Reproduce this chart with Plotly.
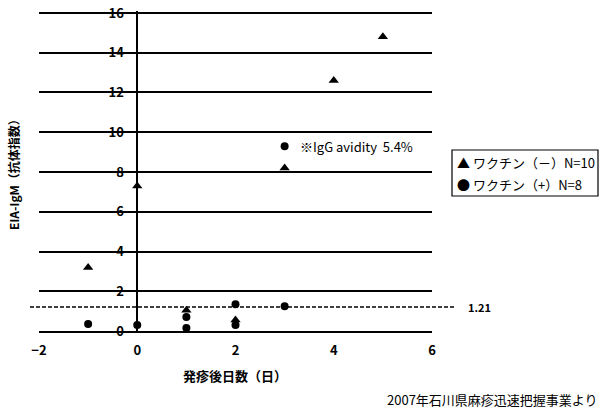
import plotly.graph_objects as go

# Data
neg_x = [-1, 0, 1, 2, 3, 4, 5]
neg_y = [3.2, 7.3, 1.05, 0.55, 8.2, 12.6, 14.8]
pos_x = [-1, 0, 1, 1, 2, 2, 3, 3]
pos_y = [0.35, 0.3, 0.7, 0.15, 1.35, 0.3, 1.25, 9.3]
neg_name = "ワクチン（－）N=10"
pos_name = "ワクチン（+）N=8"
cutoff = 1.21
x_ticks = [-2, 0, 2, 4, 6]
y_ticks = [0, 2, 4, 6, 8, 10, 12, 14, 16]

FONT = "Noto Sans CJK JP"
W, H = 603, 415
L, T = 39, 11
PW, PH = 393, 320
R, B = W - L - PW, H - T - PH

def px_x(px):  # screen pixel -> paper x
    return (px - L) / PW

def px_y(py):  # screen pixel -> paper y
    return (T + PH - py) / PH

fig = go.Figure()
fig.add_trace(go.Scatter(x=neg_x, y=neg_y, mode="markers", name=neg_name, showlegend=False,
                         marker=dict(symbol="triangle-up", size=9, color="black"),
                         cliponaxis=False))
fig.add_trace(go.Scatter(x=pos_x, y=pos_y, mode="markers", name=pos_name, showlegend=False,
                         marker=dict(symbol="circle", size=8, color="black"),
                         cliponaxis=False))

# cutoff dashed line (extends past plot area)
fig.add_shape(type="line", xref="paper", yref="y", x0=px_x(30), x1=px_x(455),
              y0=cutoff, y1=cutoff, line=dict(color="black", width=1.5, dash="4px,2px"))
fig.add_annotation(xref="paper", yref="y", x=px_x(466), y=cutoff, text=f"<b>{cutoff:.2f}</b>",
                   showarrow=False, xanchor="left", yanchor="middle",
                   font=dict(size=11, color="black", family=FONT))

fig.add_annotation(x=3.27, y=9.3, text="※IgG avidity  5.4%", showarrow=False,
                   xanchor="left", yanchor="middle", font=dict(size=13, color="black", family=FONT))

fig.add_annotation(xref="paper", yref="paper", x=px_x(13), y=px_y(172),
                   text="<b>EIA-IgM（抗体指数）</b>",
                   textangle=-90, showarrow=False, xanchor="center", yanchor="middle",
                   font=dict(size=12, color="black", family=FONT))

fig.add_annotation(xref="paper", yref="paper", x=px_x(235), y=px_y(375),
                   text="<b>発疹後日数（日）</b>",
                   showarrow=False, xanchor="center", yanchor="middle",
                   font=dict(size=13, color="black", family=FONT))

fig.add_annotation(xref="paper", yref="paper", x=px_x(600), y=px_y(399),
                   text="2007年石川県麻疹迅速把握事業より", showarrow=False,
                   xanchor="right", yanchor="middle", font=dict(size=13, color="black", family=FONT))

# legend box (drawn manually)
fig.add_shape(type="rect", xref="paper", yref="paper", x0=px_x(452), x1=px_x(598),
              y0=px_y(196), y1=px_y(150), line=dict(color="black", width=1.2),
              fillcolor="white")
fig.add_annotation(xref="paper", yref="paper", x=px_x(455), y=px_y(162),
                   text="▲ " + neg_name, showarrow=False, xanchor="left", yanchor="middle",
                   font=dict(size=13, color="black", family=FONT))
fig.add_annotation(xref="paper", yref="paper", x=px_x(455), y=px_y(184),
                   text="● " + pos_name, showarrow=False, xanchor="left", yanchor="middle",
                   font=dict(size=13, color="black", family=FONT))

fig.update_layout(
    width=W, height=H,
    margin=dict(l=L, r=R, t=T, b=B, autoexpand=False),
    plot_bgcolor="white", paper_bgcolor="white",
    font=dict(family=FONT, color="black", size=12),
    showlegend=False,
    xaxis=dict(range=[-2, 6], tickvals=x_ticks, showgrid=False, zeroline=False,
               showline=True, linecolor="black", linewidth=2, ticks="", automargin=False,
               ticklabelstandoff=6, tickfont=dict(size=13, family=FONT, weight="bold")),
    yaxis=dict(range=[0, 16.1], tickvals=y_ticks, showgrid=True, gridcolor="black", gridwidth=2,
               zeroline=False, showline=True, linecolor="black", linewidth=1.5, ticks="",
               automargin=False, ticklabelstandoff=10, ticklabeloverflow="allow",
               anchor="free", position=0.25, tickfont=dict(size=13, family=FONT, weight="bold")),
)

fig.write_html("out.html", config={"displayModeBar": False},
               post_script="document.body.style.margin='0';document.body.style.overflow='hidden';")
